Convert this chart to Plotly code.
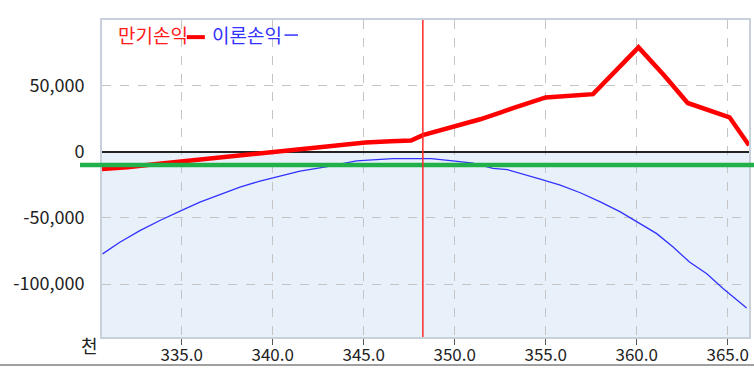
import plotly.graph_objects as go

# 만기손익 (payoff at expiry)
x_mat = [330.62, 332.0, 333.5, 335.0, 336.5, 338.0, 339.3, 340.5, 342.0, 343.5, 345.1, 346.5, 347.6,
         348.25, 350.0, 351.4, 352.5, 353.2, 355.0, 356.9, 357.6, 360.1, 361.5, 362.8, 364.2, 365.1, 366.17]
y_mat = [-13000, -11800, -9500, -7300, -5500, -3500, -1500, 0, 2500, 4800, 7000, 7800, 8400,
         12500, 19000, 24500, 29500, 33000, 41000, 42700, 43500, 78800, 57800, 36800, 30300, 26000, 4800]

# 이론손익 (theoretical P&L)
x_th = [330.65, 331.6, 332.7, 333.8, 335.0, 336.0, 337.1, 338.2, 339.3, 340.4, 341.5, 343.0, 344.6,
        346.6, 347.9, 348.7, 349.9, 351.0, 352.1, 352.9, 354.7, 355.8, 356.9, 358.0, 359.1, 360.05,
        361.1, 362.0, 362.9, 363.85, 364.76, 366.04]
y_th = [-77200, -68400, -59600, -52000, -44400, -38100, -32500, -26700, -22200, -18200, -14600, -11300, -7000,
        -5300, -5300, -5300, -7000, -8600, -12600, -13600, -20700, -25200, -31000, -37900, -45500, -53000,
        -61900, -72000, -83400, -92200, -103600, -118000]

x_ticks = [335, 340, 345, 350, 355, 360, 365]
x_ticktext = ["335.0", "340.0", "345.0", "350.0", "355.0", "360.0", "365.0"]
y_ticks = [-100000, -50000, 0, 50000]
y_ticktext = ["-100,000", "-50,000", "0", "50,000"]

current_price = 348.25
green_level = -10000
x_range = [330.62, 366.17]
y_range = [-140000, 99500]

fig = go.Figure()
fig.add_trace(go.Scatter(x=x_th, y=y_th, mode="lines", name="이론손익",
                         line=dict(color="#3232FF", width=1.3), showlegend=False))
fig.add_trace(go.Scatter(x=x_mat, y=y_mat, mode="lines", name="만기손익",
                         line=dict(color="#FF0000", width=4.5), showlegend=False))

# light blue loss region
fig.add_shape(type="rect", xref="paper", yref="y", x0=0, x1=1, y0=y_range[0], y1=0,
              fillcolor="#E8F0FA", line_width=0, layer="below")
# green level line
fig.add_shape(type="line", xref="paper", yref="y", x0=-0.034, x1=1.01, y0=green_level, y1=green_level,
              line=dict(color="#22B04B", width=4.5), layer="above")
# current price line
fig.add_shape(type="line", xref="x", yref="paper", x0=current_price, x1=current_price, y0=0, y1=1,
              line=dict(color="#FF2A2A", width=1.5), layer="above")
# bottom window border
fig.add_shape(type="line", xref="paper", yref="paper", x0=-0.2, x1=1.05, y0=-0.0883, y1=-0.0883,
              line=dict(color="#A0A0A0", width=2))

font_k = "Noto Sans CJK KR"
# legend (text then sample line)
fig.add_annotation(xref="paper", yref="paper", x=0.021, y=0.954, text="만기손익", showarrow=False,
                   xanchor="left", yanchor="middle", font=dict(family=font_k, size=19, color="#FF1A1A"))
fig.add_shape(type="line", xref="paper", yref="paper", x0=0.131, x1=0.159, y0=0.946, y1=0.946,
              line=dict(color="#FF0000", width=4))
fig.add_annotation(xref="paper", yref="paper", x=0.167, y=0.954, text="이론손익", showarrow=False,
                   xanchor="left", yanchor="middle", font=dict(family=font_k, size=19, color="#3232FF"))
fig.add_shape(type="line", xref="paper", yref="paper", x0=0.282, x1=0.303, y0=0.9525, y1=0.9525,
              line=dict(color="#3232FF", width=1.5))
# unit label
fig.add_annotation(xref="paper", yref="paper", x=-0.019, y=-0.025, text="천", showarrow=False,
                   xanchor="center", yanchor="middle", font=dict(family=font_k, size=18, color="#222222"))

fig.update_layout(
    width=754, height=368,
    margin=dict(l=102, r=5, t=20, b=31, autoexpand=False),
    paper_bgcolor="white", plot_bgcolor="white",
    showlegend=False,
    font=dict(family=font_k, size=18, color="#222222"),
)
fig.update_xaxes(range=x_range, tickvals=x_ticks, ticktext=x_ticktext, automargin=False,
                 showgrid=True, gridcolor="#C4C4C4", griddash="dash", gridwidth=1,
                 ticks="outside", ticklen=6, tickcolor="#555555", tickwidth=1,
                 showline=True, mirror=True, linecolor="#C8D0DC", linewidth=2,
                 zeroline=False, ticklabelstandoff=-4, tickfont=dict(size=17))
fig.update_yaxes(range=y_range, tickvals=y_ticks, ticktext=y_ticktext, automargin=False,
                 showgrid=True, gridcolor="#C4C4C4", griddash="dash", gridwidth=1,
                 ticks="", showline=True, mirror=True, linecolor="#C8D0DC", linewidth=2,
                 zeroline=True, zerolinecolor="#222222", zerolinewidth=1.5,
                 ticklabelstandoff=12)

fig.write_html("out.html")
